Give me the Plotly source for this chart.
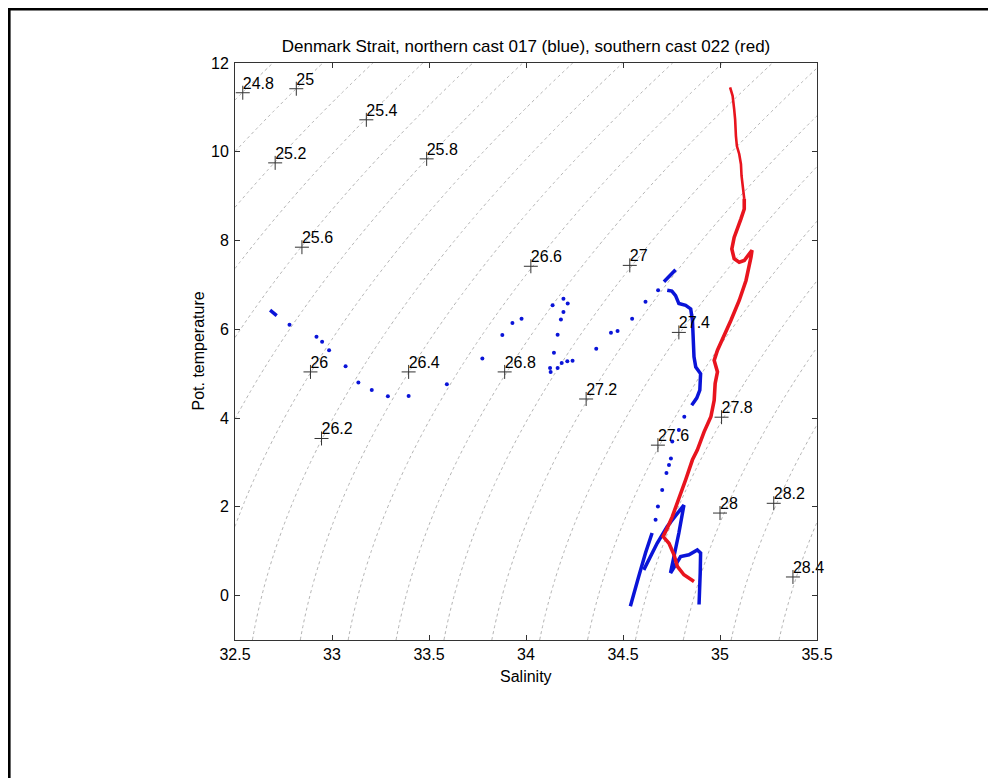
import numpy as np
import plotly.graph_objects as go

# ---------------- data ----------------
title_text = "Denmark Strait, northern cast 017 (blue), southern cast 022 (red)"
x_ticks = [32.5, 33, 33.5, 34, 34.5, 35, 35.5]
y_ticks = [0, 2, 4, 6, 8, 10, 12]

# density contour labels (salinity, pot. temperature, label)
lab_s = [32.54, 32.816, 33.177, 32.707, 33.488, 32.845, 34.025, 32.889, 33.395,
         33.89, 32.946, 34.31, 34.535, 34.788, 34.68, 35.008, 35.0, 35.277, 35.376]
lab_t = [11.33, 11.42, 10.72, 9.75, 9.84, 7.85, 7.42, 5.04, 5.04,
         5.04, 3.54, 4.43, 7.44, 5.93, 3.39, 4.02, 1.86, 2.08, 0.42]
lab_txt = ["24.8", "25", "25.4", "25.2", "25.8", "25.6", "26.6", "26", "26.4",
           "26.8", "26.2", "27.2", "27", "27.4", "27.6", "27.8", "28", "28.2", "28.4"]

# northern cast 017 (blue) - isolated samples
blue_sparse_s = [32.781, 32.92, 32.949, 32.985, 33.07, 33.136, 33.205, 33.288, 33.395,
                 33.592, 33.775, 33.878, 33.93, 33.977,
                 34.137, 34.193, 34.215, 34.193, 34.18, 34.163, 34.144, 34.124, 34.127,
                 34.163, 34.184, 34.213, 34.24,
                 34.362, 34.438, 34.472, 34.547, 34.616, 34.681,
                 34.816, 34.788, 34.754, 34.747, 34.737, 34.724, 34.702, 34.68, 34.668]
blue_sparse_t = [6.10, 5.83, 5.72, 5.53, 5.17, 4.80, 4.63, 4.49, 4.50,
                 4.76, 5.34, 5.87, 6.14, 6.24,
                 6.54, 6.69, 6.58, 6.39, 6.22, 5.88, 5.47, 5.13, 5.04,
                 5.13, 5.24, 5.28, 5.29,
                 5.56, 5.92, 5.96, 6.24, 6.62, 6.88,
                 4.03, 3.73, 3.47, 3.09, 2.94, 2.76, 2.38, 2.01, 1.71]

# northern cast 017 (blue) - densely sampled stretches
blue_seg1_s = [32.681, 32.698, 32.715]
blue_seg1_t = [6.43, 6.37, 6.31]
blue_seg2_s = [34.711, 34.740, 34.771]
blue_seg2_t = [7.07, 7.20, 7.34]
blue_seg3_s = [34.728, 34.752, 34.771, 34.788, 34.823, 34.849, 34.858, 34.862, 34.866,
               34.875, 34.900, 34.896, 34.880, 34.854]
blue_seg3_t = [6.88, 6.86, 6.76, 6.58, 6.54, 6.46, 6.20, 5.83, 5.38,
               5.15, 5.00, 4.63, 4.45, 4.29]
blue_seg4_s = [34.650, 34.616, 34.581, 34.555, 34.538]
blue_seg4_t = [1.41, 0.96, 0.43, 0.06, -0.24]
blue_seg5_s = [34.607, 34.676, 34.728, 34.780, 34.814, 34.788, 34.763, 34.745,
               34.797, 34.840, 34.883, 34.900, 34.898, 34.896, 34.892]
blue_seg5_t = [0.58, 1.18, 1.56, 1.86, 2.04, 1.41, 0.88, 0.51,
               0.88, 0.92, 1.03, 0.96, 0.51, 0.13, -0.20]

# southern cast 022 (red): upper (sparser) part and lower (dense) part
red_up_s = [35.052, 35.065, 35.073, 35.078, 35.082, 35.087, 35.099, 35.108, 35.111, 35.117,
            35.125]
red_up_t = [11.45, 11.26, 10.96, 10.73, 10.36, 10.13, 9.95, 9.72, 9.46, 9.20,
            8.94]
red_lo_s = [35.125, 35.125, 35.108, 35.091, 35.073, 35.061, 35.073, 35.099, 35.125, 35.165,
            35.160, 35.134, 35.099, 35.056, 35.022, 34.987, 34.970, 34.987, 34.975, 34.970,
            34.953, 34.918, 34.883, 34.858, 34.823, 34.788, 34.754, 34.728, 34.707, 34.737,
            34.763, 34.780, 34.814, 34.866]
red_lo_t = [8.94, 8.71, 8.49, 8.26, 8.07, 7.81, 7.59, 7.51, 7.55, 7.78,
            7.63, 7.10, 6.65, 6.20, 5.87, 5.53, 5.30, 5.04, 4.78, 4.40,
            4.03, 3.69, 3.28, 3.06, 2.61, 2.16, 1.78, 1.52, 1.33, 1.18,
            0.92, 0.66, 0.47, 0.32]

# ---------------- density (sigma-theta, UNESCO EOS-80 at p=0) ----------------
def sigma0(S, T):
    rw = (999.842594 + 6.793952e-2 * T - 9.095290e-3 * T**2 + 1.001685e-4 * T**3
          - 1.120083e-6 * T**4 + 6.536332e-9 * T**5)
    A = 0.824493 - 4.0899e-3 * T + 7.6438e-5 * T**2 - 8.2467e-7 * T**3 + 5.3875e-9 * T**4
    B = -5.72466e-3 + 1.0227e-4 * T - 1.6546e-6 * T**2
    C = 4.8314e-4
    return rw + A * S + B * S**1.5 + C * S**2 - 1000.0

sg = np.linspace(32.5, 35.5, 121)
tg = np.linspace(-1, 12, 131)
SS, TT = np.meshgrid(sg, tg)
ZZ = sigma0(SS, TT)

# ---------------- figure ----------------
FONT = "Liberation Sans, Arial, sans-serif"
fig = go.Figure()
fig.add_trace(go.Contour(
    x=sg, y=tg, z=ZZ, showscale=False, hoverinfo="skip",
    contours=dict(start=24.0, end=29.0, size=0.2, coloring="none", showlabels=False),
    line=dict(color="#b4b4b4", width=1, dash="dot"),
))

blue = "#0a14d8"
red = "#e8141e"
for xs, ys in [(blue_seg1_s, blue_seg1_t), (blue_seg2_s, blue_seg2_t), (blue_seg3_s, blue_seg3_t),
               (blue_seg4_s, blue_seg4_t), (blue_seg5_s, blue_seg5_t)]:
    fig.add_trace(go.Scatter(x=xs, y=ys, mode="lines", line=dict(color=blue, width=3.5),
                             showlegend=False))
fig.add_trace(go.Scatter(x=blue_sparse_s, y=blue_sparse_t, mode="markers",
                         marker=dict(color=blue, size=4), showlegend=False))
fig.add_trace(go.Scatter(x=red_up_s, y=red_up_t, mode="lines", line=dict(color=red, width=2.6),
                         showlegend=False))
fig.add_trace(go.Scatter(x=red_lo_s, y=red_lo_t, mode="lines", line=dict(color=red, width=3.6),
                         showlegend=False))

fig.add_trace(go.Scatter(
    x=lab_s, y=lab_t, mode="markers",
    marker=dict(symbol="cross-thin", size=10, line=dict(color="#333333", width=1)),
    showlegend=False, cliponaxis=False))
fig.add_trace(go.Scatter(
    x=lab_s, y=lab_t, mode="text", text=lab_txt, textposition="top right",
    textfont=dict(family=FONT, size=16, color="black"),
    showlegend=False, cliponaxis=False))

axis_common = dict(showgrid=False, zeroline=False, showline=True, linecolor="#333333",
                   linewidth=1, mirror="allticks", ticks="inside", ticklen=5,
                   tickcolor="#333333",
                   tickfont=dict(family=FONT, size=16, color="black"))

# page body has an 8px margin -> figure is placed at (8, 8)
W, H = 988, 770
L, T = 227, 55
PW, PH = 582, 577

fig.update_layout(
    width=W, height=H,
    margin=dict(l=L, r=W - L - PW, t=T, b=H - T - PH),
    paper_bgcolor="white", plot_bgcolor="white",
    font=dict(family=FONT, color="black"),
    title=dict(text=title_text, x=0.5, xanchor="center", xref="paper",
               y=1 - 38 / H, yanchor="middle",
               font=dict(size=17, color="black")),
    xaxis=dict(range=[32.5, 35.5], tickvals=x_ticks, ticktext=[f"{v:g}" for v in x_ticks],
               ticklabelstandoff=0, **axis_common),
    yaxis=dict(range=[-1, 12], tickvals=y_ticks, ticktext=[f"{v:g}" for v in y_ticks],
               ticklabelstandoff=2, **axis_common),
    showlegend=False,
    annotations=[
        dict(text="Salinity", x=0.5, y=0, xref="paper", yref="paper", xanchor="center",
             yanchor="middle", yshift=-36, showarrow=False, font=dict(size=16, color="black")),
        dict(text="Pot. temperature", x=0, y=0.5, xref="paper", yref="paper",
             xanchor="center", yanchor="middle", xshift=-37, textangle=-90,
             showarrow=False, font=dict(size=16, color="black")),
    ],
    shapes=[dict(type="rect", xref="paper", yref="paper",
                 x0=(1.3 - L) / PW, x1=1.5, y0=-0.4, y1=1 + (T - 1.3) / PH,
                 line=dict(color="black", width=2.6), fillcolor="rgba(0,0,0,0)",
                 layer="above")],
)

fig.write_html("out.html")
